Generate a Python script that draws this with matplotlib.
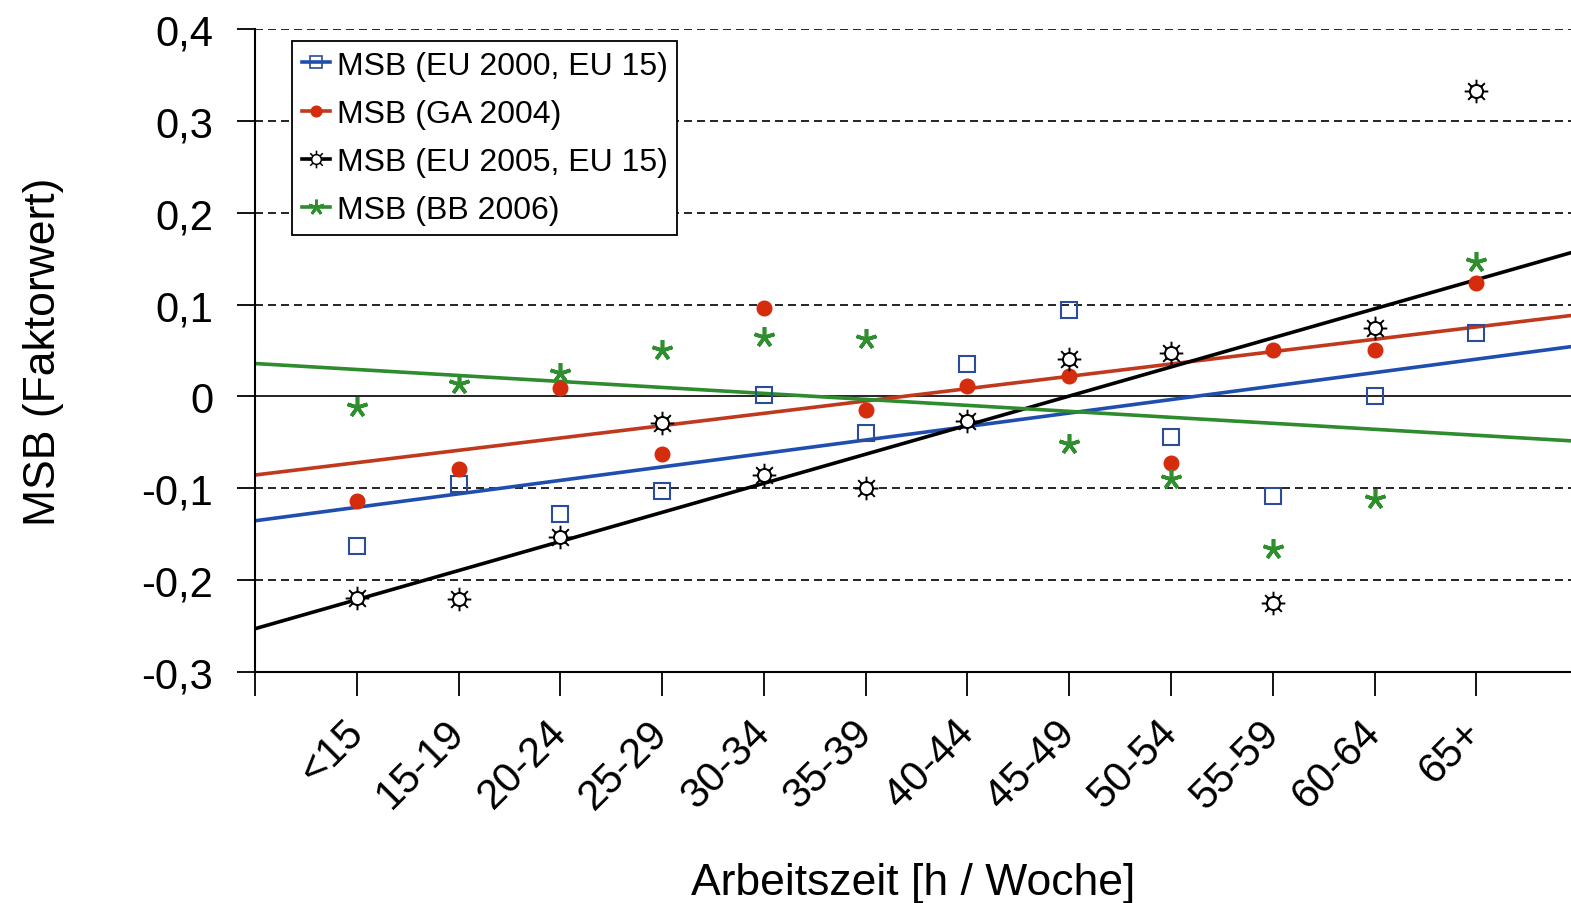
import numpy as np
import matplotlib
matplotlib.use("Agg")
import matplotlib.pyplot as plt
from matplotlib.path import Path
from matplotlib.lines import Line2D

plt.rcParams["font.family"] = ["Liberation Sans", "DejaVu Sans"]

# Arbeitszeit-Klassen (h / Woche)
categories = ["<15", "15-19", "20-24", "25-29", "30-34", "35-39",
              "40-44", "45-49", "50-54", "55-59", "60-64", "65+"]

# MSB-Faktorwerte je Erhebung
msb_eu2000 = [-0.163, -0.095, -0.128, -0.103, 0.002, -0.040,
              0.035, 0.094, -0.044, -0.108, 0.000, 0.069]
msb_ga2004 = [-0.114, -0.079, 0.009, -0.063, 0.096, -0.015,
              0.011, 0.022, -0.072, 0.051, 0.051, 0.124]
msb_eu2005 = [-0.219, -0.221, -0.153, -0.029, -0.086, -0.100,
              -0.027, 0.041, 0.047, -0.225, 0.075, 0.332]
# BB 2006 hat keinen Wert fuer 40-44
msb_bb2006 = [-0.012, 0.014, 0.025, 0.051, 0.065, 0.063,
              np.nan, -0.052, -0.090, -0.166, -0.112, 0.146]

series_labels = ["MSB (EU 2000, EU 15)", "MSB (GA 2004)",
                 "MSB (EU 2005, EU 15)", "MSB (BB 2006)"]

ytick_values = [-0.3, -0.2, -0.1, 0.0, 0.1, 0.2, 0.3, 0.4]
ytick_labels = ["-0,3", "-0,2", "-0,1", "0", "0,1", "0,2", "0,3", "0,4"]


def sun_marker():
    # offener Kreis mit 8 Strahlen
    c = Path.unit_circle()
    circ = Path(c.vertices * 0.55, c.codes)
    verts, codes = [], []
    for a in np.linspace(0, 2 * np.pi, 8, endpoint=False):
        verts += [(0.55 * np.cos(a), 0.55 * np.sin(a)), (np.cos(a), np.sin(a))]
        codes += [Path.MOVETO, Path.LINETO]
    return Path.make_compound_path(circ, Path(verts, codes))


styles = [
    dict(line="#1f4fae", marker="s", ms=12, mfc="none", mec="#2b4c9b", mew=1.5),
    dict(line="#c0391c", marker="o", ms=10.5, mfc="#d42c0c", mec="#d42c0c", mew=1.0),
    dict(line="#000000", marker=sun_marker(), ms=17, mfc="white", mec="#000000", mew=1.4),
    dict(line="#2e8b2e", marker=(5, 2, 0), ms=15, mfc="#2f8f2f", mec="#2f8f2f", mew=2.6),
]
series = [msb_eu2000, msb_ga2004, msb_eu2005, msb_bb2006]

fig = plt.figure(figsize=(15.71, 9.04), dpi=100)
ax = fig.add_axes([255 / 1571, 1 - 673 / 904, 1 - 255 / 1571, 643 / 904])

x = np.arange(1, len(categories) + 1)
xmax = 12.93
ax.set_xlim(0, xmax)
ax.set_ylim(-0.3, 0.4)

# Hilfslinien
for v in ytick_values:
    if v == 0:
        ax.axhline(0, color="black", lw=1.2, zorder=1)
    elif v > -0.3:
        ax.axhline(v, color="black", lw=1.2, dashes=(4.8, 3.0), zorder=1)

# lineare Trends
xx = np.array([0, xmax])
for vals, st in zip(series, styles):
    y = np.array(vals, dtype=float)
    ok = ~np.isnan(y)
    k, d = np.polyfit(x[ok], y[ok], 1)
    ax.plot(xx, k * xx + d, color=st["line"], lw=2.6, zorder=2)

# Messpunkte
for vals, st in zip(series, styles):
    ax.plot(x, vals, ls="none", marker=st["marker"], ms=st["ms"],
            mfc=st["mfc"], mec=st["mec"], mew=st["mew"], zorder=3)

ax.spines["top"].set_visible(False)
ax.spines["right"].set_visible(False)
ax.spines["left"].set_linewidth(1.5)
ax.spines["bottom"].set_linewidth(1.5)

ax.set_yticks(ytick_values)
ax.set_yticklabels(ytick_labels)
ax.tick_params(axis="y", direction="out", length=13, width=1.3, pad=17,
               labelsize=30)

ax.set_xticks(np.arange(0, len(categories) + 1))
ax.set_xticklabels([""] + categories)
ax.tick_params(axis="x", direction="out", length=17, width=1.3, pad=22,
               labelsize=30)
for lab in ax.get_xticklabels():
    lab.set_rotation(45)
    lab.set_ha("right")
    lab.set_va("center")
    lab.set_rotation_mode("anchor")

ax.set_ylabel("MSB (Faktorwert)", fontsize=32)
ax.yaxis.set_label_coords(-0.145, 0.5)
ax.set_xlabel("Arbeitszeit [h / Woche]", fontsize=32)
ax.xaxis.set_label_coords(0.5, -0.345)
ax.xaxis.label.set_va("baseline")

handles = [Line2D([0], [0], color=st["line"], lw=2.6, marker=st["marker"],
                  ms=st["ms"] * 0.75, mfc=st["mfc"], mec=st["mec"], mew=st["mew"] * 0.8)
           for st in styles]
leg = ax.legend(handles, series_labels, loc="upper left",
                bbox_to_anchor=(37 / 1316, 631 / 643), borderaxespad=0,
                fontsize=23, handlelength=0.9, handletextpad=0.2,
                borderpad=0.3, labelspacing=0.57, fancybox=False,
                framealpha=1, edgecolor="black")
leg.get_frame().set_linewidth(1.3)

fig.savefig("out.png", dpi=100)
